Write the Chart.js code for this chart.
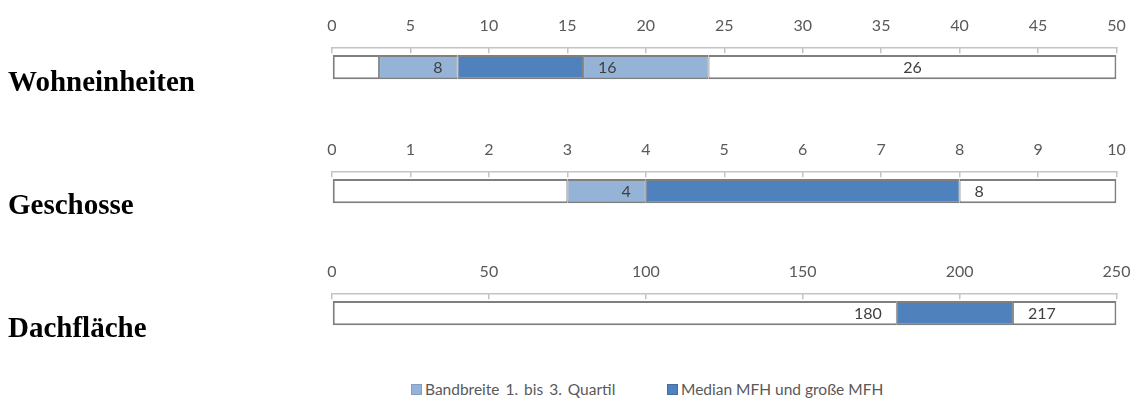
<!DOCTYPE html>
<html>
<head>
<meta charset="utf-8">
<script src="https://cdn.jsdelivr.net/npm/chart.js@4.4.1/dist/chart.umd.min.js"></script>
<style>
  body { margin: 0; background: #fff; width: 1132px; height: 399px; overflow: hidden; position: relative; font-family: Lato, sans-serif; }
  .panel { position: absolute; left: 0; width: 1132px; height: 123px; }
  .rowlabel { position: absolute; left: 8px; font: bold 29px "Liberation Serif", "Times New Roman", serif; color: #000; line-height: 1; }
  .legend-item { position: absolute; top: 380px; display: flex; align-items: center; font-size: 15.5px; color: #595959; white-space: nowrap; }
  .legend-item span.box { display: inline-block; width: 9px; height: 9px; margin-right: 3px; border: 1px solid; }
</style>
</head>
<body>
<div id="wrap"></div>

<script>
// categories / panel titles
const panelNames = ['Wohneinheiten', 'Geschosse', 'Dachfläche'];
const axisMax = [50, 10, 250];
const axisStep = [5, 1, 50];

// segment widths (stacked from 0), their kind and their printed label
const wohnSegments = [3, 5, 8, 8, 26];
const wohnKinds = ['rest', 'quartil', 'median', 'quartil', 'rest'];
const wohnLabels = ['', '8', '', '16', '26'];

const geschSegments = [3, 1, 4, 2];
const geschKinds = ['rest', 'quartil', 'median', 'rest'];
const geschLabels = ['', '4', '', '8'];

const dachSegments = [180, 37, 33];
const dachKinds = ['rest', 'median', 'rest'];
const dachLabels = ['180', '', '217'];

const legendNames = ['Bandbreite 1. bis 3. Quartil', 'Median MFH und große MFH'];

// styling
const fills = { rest: '#ffffff', quartil: '#95b3d7', median: '#4f81bd' };
const labelAligns = [
  ['', 'end', '', 'start', 'center'],
  ['', 'end', '', 'start'],
  ['end', '', 'start']
];
const panelTops = [0, 124, 246];
const labelTops = [67, 190, 313];

const segLabelPlugin = {
  id: 'segLabels',
  afterDatasetsDraw(chart) {
    const ctx = chart.ctx;
    ctx.save();
    ctx.font = '16px Lato';
    ctx.fillStyle = '#404040';
    ctx.textBaseline = 'middle';
    chart.data.datasets.forEach((ds, i) => {
      if (!ds.segLabel) return;
      const bar = chart.getDatasetMeta(i).data[0];
      const left = Math.min(bar.x, bar.base);
      const right = Math.max(bar.x, bar.base);
      let x;
      if (ds.labelAlign === 'end') {
        ctx.textAlign = 'right';
        x = right - 15;
      } else if (ds.labelAlign === 'start') {
        ctx.textAlign = 'left';
        x = left + 15;
      } else {
        ctx.textAlign = 'center';
        x = (left + right) / 2;
      }
      ctx.fillText(ds.segLabel, x, bar.y + 1);
    });
    ctx.restore();
  }
};

function buildPanel(idx, segments, kinds, labels) {
  const wrap = document.getElementById('wrap');
  const div = document.createElement('div');
  div.className = 'panel';
  div.style.top = panelTops[idx] + 'px';
  const canvas = document.createElement('canvas');
  canvas.width = 1132;
  canvas.height = 123;
  div.appendChild(canvas);
  wrap.appendChild(div);

  const title = document.createElement('div');
  title.className = 'rowlabel';
  title.style.top = labelTops[idx] + 'px';
  title.textContent = panelNames[idx];
  wrap.appendChild(title);

  const last = segments.length - 1;
  const datasets = segments.map((v, j) => ({
    label: kinds[j],
    data: [v],
    backgroundColor: fills[kinds[j]],
    borderColor: '#7f7f7f',
    borderWidth: { top: 2, bottom: 2, left: j === 0 ? 2 : 1, right: j === last ? 2 : 1 },
    borderSkipped: false,
    barPercentage: 1,
    categoryPercentage: 0.61,
    segLabel: labels[j],
    labelAlign: labelAligns[idx][j]
  }));

  new Chart(canvas, {
    type: 'bar',
    data: { labels: [panelNames[idx]], datasets: datasets },
    options: {
      indexAxis: 'y',
      responsive: false,
      animation: false,
      layout: { padding: { left: 332, right: 15.5, top: 7.5, bottom: 36 } },
      plugins: { legend: { display: false }, tooltip: { enabled: false } },
      scales: {
        x: {
          position: 'top',
          stacked: true,
          min: 0,
          max: axisMax[idx],
          afterFit(scale) {
            scale.paddingLeft = 0;
            scale.paddingRight = 0;
          },
          ticks: {
            stepSize: axisStep[idx],
            color: '#595959',
            font: { family: 'Lato', size: 16 },
            padding: 18,
            maxRotation: 0
          },
          grid: { drawOnChartArea: false, drawTicks: true, tickLength: -6, color: '#c4c4c4', lineWidth: 1.5 },
          border: { color: '#c4c4c4', width: 1.5 }
        },
        y: { stacked: true, display: false }
      }
    },
    plugins: [segLabelPlugin]
  });
}

buildPanel(0, wohnSegments, wohnKinds, wohnLabels);
buildPanel(1, geschSegments, geschKinds, geschLabels);
buildPanel(2, dachSegments, dachKinds, dachLabels);

// legend
const legendLefts = [411, 667];
const legendKinds = ['quartil', 'median'];
const legendWordSpacing = ['2px', '0px'];
legendNames.forEach((name, i) => {
  const item = document.createElement('div');
  item.className = 'legend-item';
  item.style.left = legendLefts[i] + 'px';
  item.style.wordSpacing = legendWordSpacing[i];
  const box = document.createElement('span');
  box.className = 'box';
  box.style.background = fills[legendKinds[i]];
  box.style.borderColor = i === 0 ? '#7f9fc8' : '#3f6ea8';
  item.appendChild(box);
  item.appendChild(document.createTextNode(name));
  document.body.appendChild(item);
});
</script>
</body>
</html>
